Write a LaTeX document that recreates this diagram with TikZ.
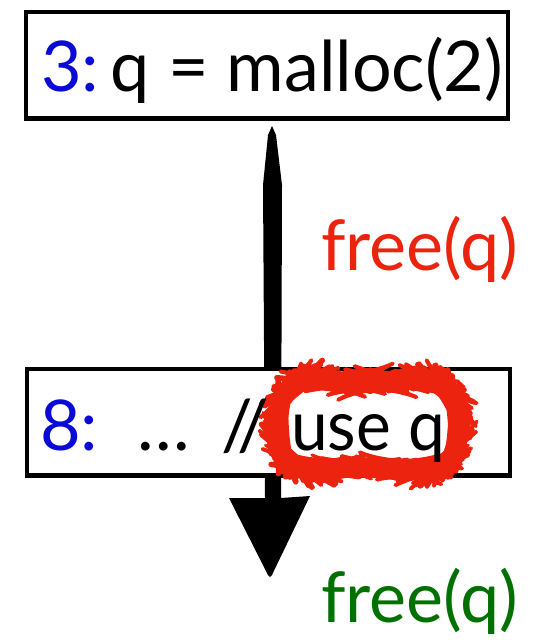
\documentclass[tikz,border=0pt]{standalone}
\usepackage{fontspec}
\setmainfont{Lato}
\usetikzlibrary{decorations.pathmorphing,backgrounds}
\definecolor{lblue}{RGB}{10,10,215}
\definecolor{lred}{RGB}{235,35,15}
\definecolor{lgreen}{RGB}{0,112,0}
\tikzset{
  stmtbox/.style={draw=black,line width=4.5pt,fill=white,inner sep=0pt},
  bigtext/.style={inner sep=0pt,anchor=base west,font=\fontsize{70}{84}\selectfont},
  scribble/.style={draw=lred,line width=#1,line join=round,line cap=round,rounded corners=34pt,decorate,
     decoration={random steps,segment length=4pt,amplitude=0.8pt}},
}
\begin{document}
\begin{tikzpicture}[x=1pt,y=-1pt]
\useasboundingbox (0,0) rectangle (541,644);
% boxes
\node[stmtbox,minimum width=482pt,minimum height=106.5pt] (b1) at (267,65.25) {};
\coordinate (tip) at (270,579);
% arrow (brush stroke) behind second box
\fill[black] (272,126) -- (276,135) -- (282,185) -- (281,498) -- (310,496)
   [rounded corners=4pt] -- (tip) [sharp corners] -- (229,498) -- (265,498) -- (263,185) -- (268,135) -- cycle;
\node[stmtbox,minimum width=483pt,minimum height=106.5pt] (b2) at (268.5,422.25) {};
% red scribble round "use q"
\draw[scribble=5.5pt] (280,381) rectangle (456,469);
\draw[scribble=4pt] (277,385) rectangle (459,465);
\draw[scribble=4pt] (284,378) rectangle (452,472);
\draw[scribble=3pt] (282,383) rectangle (454,467);
% texts
\node[bigtext] (t1) at (41,92) {\textcolor{lblue}{3:}\,q = malloc(2)};
\node[bigtext] (t2n) at (40,450) {\textcolor{lblue}{8:}};
\node[bigtext] (t2a) at (137,450) {…};
\node[bigtext] (t2s) at (221,450) {//};
\node[bigtext] (t2b) at (291,450) {\scalebox{0.94}[1]{use q}};
\node[bigtext,text=lred] (f1) at (321,270) {free(q)};
\node[bigtext,text=lgreen] (f2) at (321,622) {free(q)};
\end{tikzpicture}
\end{document}
